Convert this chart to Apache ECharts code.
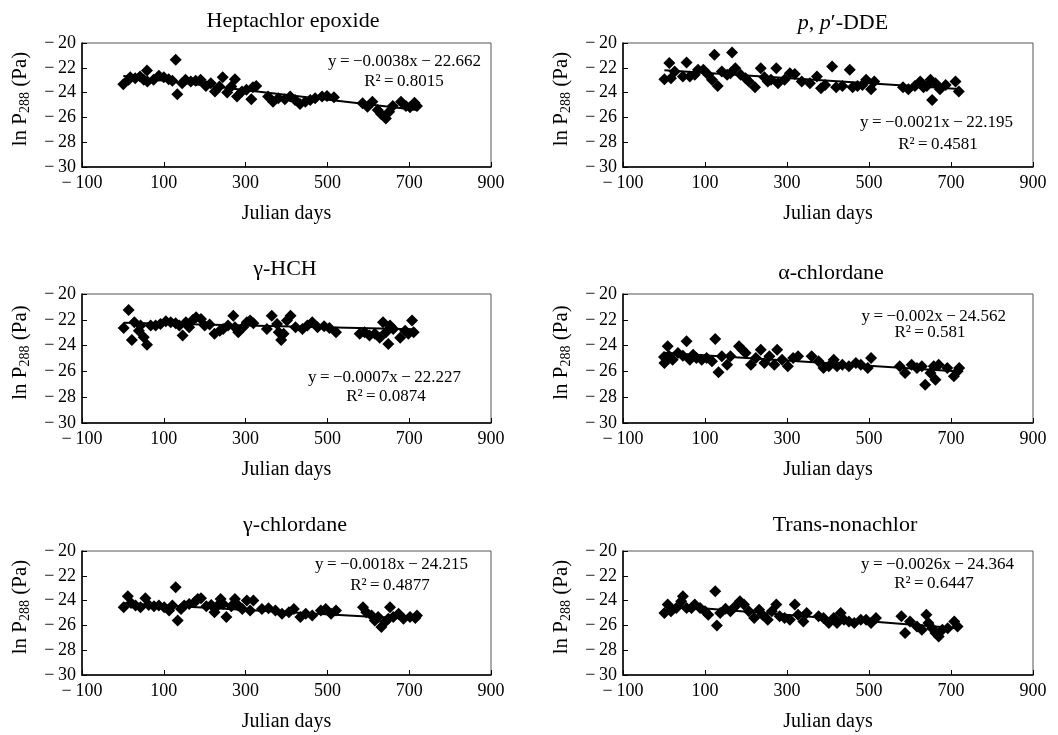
<!DOCTYPE html>
<html>
<head>
<meta charset="utf-8">
<script src="https://cdn.jsdelivr.net/npm/echarts@6/dist/echarts.min.js"></script>
<style>
html,body{margin:0;padding:0;background:#fff;}
#c{width:1058px;height:735px;}
</style>
</head>
<body>
<div id="c"></div>
<script>
// ---------- DATA ----------
const titles = ['Heptachlor epoxide', '{i|p}, {i|p}\u2032-DDE', '\u03B3-HCH', '\u03B1-chlordane', '\u03B3-chlordane', 'Trans-nonachlor'];
const xTicks = [-100, 100, 300, 500, 700, 900];
const yTicks = [-30, -28, -26, -24, -22, -20];

const hepDays = [1,14,18,30,42,51,59,60,75,88,100,112,121,129,133,145,153,166,178,190,203,215,225,236,244,255,265,274,279,291,302,314,318,326,355,367,380,396,409,421,433,446,458,470,487,499,516,586,598,610,623,631,643,651,660,680,692,702,713,719];
const hepVals = [-23.32,-22.97,-22.76,-22.84,-22.70,-22.97,-22.22,-23.11,-22.97,-22.65,-22.76,-22.92,-23.05,-21.35,-24.14,-23.24,-22.97,-23.11,-23.05,-22.97,-23.46,-23.24,-23.92,-23.51,-22.76,-24.00,-23.51,-22.92,-24.32,-23.92,-23.78,-24.54,-23.57,-23.46,-24.32,-24.73,-24.46,-24.54,-24.32,-24.59,-24.92,-24.73,-24.59,-24.46,-24.32,-24.27,-24.38,-24.86,-25.14,-24.73,-25.41,-25.73,-26.08,-25.54,-25.08,-24.73,-25.08,-25.19,-24.81,-25.08];

const ddeDays = [1,13,17,26,46,55,63,75,83,96,108,117,123,131,141,154,162,166,174,187,199,207,222,236,245,253,261,274,278,294,307,319,336,356,373,383,393,410,420,435,453,460,472,484,493,505,513,583,596,612,625,633,641,650,654,662,673,687,711,719];
const ddeVals = [-22.92,-21.62,-22.84,-22.30,-22.70,-21.57,-22.70,-22.57,-22.16,-22.16,-22.57,-22.97,-20.95,-23.46,-22.30,-22.57,-22.43,-20.76,-22.03,-22.57,-22.84,-23.11,-23.57,-22.03,-22.76,-23.11,-22.97,-22.03,-23.24,-22.97,-22.43,-22.49,-23.11,-23.24,-22.70,-23.65,-23.38,-21.89,-23.57,-23.46,-22.16,-23.57,-23.46,-23.38,-22.97,-23.73,-23.11,-23.57,-23.73,-23.46,-23.11,-23.57,-23.46,-22.97,-24.59,-23.24,-23.73,-23.38,-23.11,-23.92];

const hchDays = [2,14,22,28,39,43,51,59,68,80,92,105,117,129,138,146,154,162,171,179,191,200,212,224,237,245,257,270,274,282,294,303,311,319,352,364,377,381,387,393,401,410,422,439,451,463,476,492,505,521,579,591,603,616,628,636,643,649,653,661,678,690,698,707,711];
const hchVals = [-22.63,-21.24,-23.56,-22.19,-22.84,-22.45,-23.35,-23.94,-22.45,-22.45,-22.32,-22.11,-22.19,-22.27,-22.45,-23.22,-22.19,-22.58,-22.01,-21.80,-21.93,-22.45,-22.37,-23.09,-22.84,-22.71,-22.45,-21.68,-22.58,-22.96,-22.58,-22.19,-22.06,-22.27,-22.71,-21.68,-22.32,-22.96,-23.56,-23.09,-22.06,-21.68,-22.58,-22.71,-22.45,-22.19,-22.58,-22.50,-22.63,-22.96,-23.09,-22.96,-23.22,-23.09,-23.40,-22.19,-22.96,-23.87,-22.45,-22.71,-23.40,-22.84,-23.09,-22.06,-22.96];

const achDays = [0,1,9,13,21,34,46,55,63,71,79,92,104,117,125,133,141,154,162,183,191,199,212,224,236,245,257,269,276,288,302,315,327,360,377,389,402,414,422,435,451,468,480,497,505,575,588,604,617,629,637,650,658,662,670,691,707,716,720];
const achVals = [-24.88,-25.35,-24.06,-24.83,-25.09,-24.57,-24.78,-23.67,-25.09,-24.70,-24.96,-25.09,-24.96,-25.22,-23.49,-26.07,-24.83,-25.48,-24.83,-24.06,-24.32,-24.57,-25.48,-24.96,-24.32,-25.35,-24.83,-25.48,-24.32,-25.09,-25.61,-24.96,-24.83,-24.83,-25.22,-25.74,-25.61,-25.09,-25.61,-25.48,-25.61,-25.35,-25.48,-25.74,-24.96,-25.61,-26.12,-25.48,-25.74,-25.61,-27.03,-26.12,-25.61,-26.64,-25.48,-25.74,-26.38,-25.99,-25.74];

const gchDays = [2,12,20,31,43,55,63,76,88,101,113,121,129,134,142,150,162,175,183,191,204,216,224,232,239,245,253,265,274,282,292,303,311,319,340,356,373,389,406,418,434,447,463,484,496,509,521,587,595,608,616,624,632,641,649,653,661,674,686,702,715,719];
const gchVals = [-24.53,-23.65,-24.19,-24.40,-24.53,-23.81,-24.35,-24.45,-24.40,-24.53,-24.80,-24.40,-22.93,-25.60,-24.67,-24.40,-24.27,-24.13,-23.87,-23.81,-24.45,-24.35,-24.93,-24.40,-23.87,-24.27,-25.33,-24.45,-23.87,-24.40,-24.67,-24.00,-24.80,-24.00,-24.67,-24.61,-24.80,-25.07,-24.93,-24.67,-25.33,-25.07,-25.20,-24.80,-24.67,-25.07,-24.80,-24.53,-24.93,-25.20,-25.60,-25.33,-26.13,-25.73,-25.47,-24.53,-25.33,-25.07,-25.47,-25.33,-25.41,-25.20];

const tnDays = [1,9,17,30,42,46,55,67,75,88,100,108,125,129,137,150,162,174,185,195,207,220,232,240,253,263,274,282,294,307,319,327,340,348,377,389,402,414,422,431,439,451,464,480,493,505,517,579,588,600,617,629,640,645,654,662,670,679,692,708,716];
const tnVals = [-25.00,-24.32,-24.86,-24.59,-24.05,-23.65,-24.59,-24.59,-24.32,-24.59,-24.86,-25.14,-23.24,-26.00,-25.00,-24.65,-24.86,-24.46,-24.05,-24.32,-24.86,-25.41,-24.73,-25.14,-25.54,-24.86,-24.32,-25.27,-25.41,-25.54,-24.32,-25.14,-25.68,-25.00,-25.27,-25.41,-25.81,-25.41,-25.81,-25.00,-25.54,-25.68,-25.81,-25.54,-25.54,-25.81,-25.41,-25.27,-26.62,-25.68,-26.08,-26.35,-25.14,-25.81,-26.22,-26.62,-26.89,-26.35,-26.22,-25.68,-26.08];

const slopes = [-0.0038, -0.0021, -0.0007, -0.002, -0.0018, -0.0026];
const intercepts = [-22.662, -22.195, -22.227, -24.562, -24.215, -24.364];
const eqLabels = ['y\u2009=\u2009\u22120.0038x\u2009\u2212\u200922.662', 'y\u2009=\u2009\u22120.0021x\u2009\u2212\u200922.195', 'y\u2009=\u2009\u22120.0007x\u2009\u2212\u200922.227', 'y\u2009=\u2009\u22120.002x\u2009\u2212\u200924.562', 'y\u2009=\u2009\u22120.0018x\u2009\u2212\u200924.215', 'y\u2009=\u2009\u22120.0026x\u2009\u2212\u200924.364'];
const r2Labels = ['R\u00B2\u2009=\u20090.8015', 'R\u00B2\u2009=\u20090.4581', 'R\u00B2\u2009=\u20090.0874', 'R\u00B2\u2009=\u20090.581', 'R\u00B2\u2009=\u20090.4877', 'R\u00B2\u2009=\u20090.6447'];

const allDays = [hepDays, ddeDays, hchDays, achDays, gchDays, tnDays];
const allVals = [hepVals, ddeVals, hchVals, achVals, gchVals, tnVals];

// ---------- LAYOUT ----------
const FONT = '"Liberation Serif", "Times New Roman", serif';
const grids = [
  {left: 82, top: 43, width: 409, height: 124},
  {left: 623, top: 43, width: 410, height: 124},
  {left: 82, top: 294, width: 409, height: 129},
  {left: 623, top: 294, width: 410, height: 129},
  {left: 82, top: 551, width: 409, height: 124},
  {left: 623, top: 551, width: 410, height: 124}
];
const titlePos = [[288, 18], [838, 20], [280, 266], [826, 270], [290, 522], [840, 522]];
const eqPos = [[481, 62], [1013, 123], [461, 378], [1006, 317], [468, 565], [1014, 565]];
const r2Pos = [[404, 82], [938, 145], [386, 397], [930, 333], [390, 586], [934, 584]];

function fmt(v) {
  return v < 0 ? '\u2212' + '\u2009' + Math.abs(v) : String(v);
}

const option = {
  backgroundColor: '#fff',
  animation: false,
  title: titles.map((t, i) => ({
    text: t,
    left: titlePos[i][0],
    top: titlePos[i][1] - 13,
    textAlign: 'center',
    textStyle: {
      fontFamily: FONT, fontSize: 22, fontWeight: 'normal', color: '#000',
      rich: {i: {fontFamily: FONT, fontSize: 22, fontStyle: 'italic', color: '#000'}}
    }
  })),
  grid: grids.map(g => Object.assign({show: true, borderColor: '#555', borderWidth: 1, containLabel: false}, g)),
  xAxis: grids.map((g, i) => ({
    gridIndex: i, type: 'value', min: xTicks[0], max: xTicks[xTicks.length - 1], interval: 200,
    axisLine: {show: true, onZero: false, lineStyle: {color: '#000', width: 1.5}},
    axisTick: {show: true, inside: true, length: 5, lineStyle: {color: '#000'}},
    axisLabel: {formatter: fmt, fontFamily: FONT, fontSize: 18, color: '#000', margin: 7},
    splitLine: {show: false},
    name: 'Julian days', nameLocation: 'middle', nameGap: 37,
    nameTextStyle: {fontFamily: FONT, fontSize: 20, color: '#000'}
  })),
  yAxis: grids.map((g, i) => ({
    gridIndex: i, type: 'value', min: yTicks[0], max: yTicks[yTicks.length - 1], interval: 2,
    axisLine: {show: true, onZero: false, lineStyle: {color: '#000', width: 1.5}},
    axisTick: {show: true, inside: true, length: 5, lineStyle: {color: '#000'}},
    axisLabel: {formatter: fmt, fontFamily: FONT, fontSize: 18, color: '#000', margin: 6},
    splitLine: {show: false},
    name: '{n|ln P}{s|288}{n| (Pa)}', nameLocation: 'middle', nameRotate: 90, nameGap: 50,
    nameTextStyle: {
      fontFamily: FONT, fontSize: 21, color: '#000', padding: [0, 0, 0, 12],
      rich: {
        n: {fontFamily: FONT, fontSize: 21, color: '#000', lineHeight: 24},
        s: {fontFamily: FONT, fontSize: 14, color: '#000', lineHeight: 24, padding: [11, 0, 0, 0]}
      }
    }
  })),
  series: [],
  graphic: []
};

for (let i = 0; i < 6; i++) {
  const days = allDays[i], vals = allVals[i];
  option.series.push({
    type: 'scatter', xAxisIndex: i, yAxisIndex: i,
    data: days.map((d, k) => [d, vals[k]]),
    symbol: 'diamond', symbolSize: 12,
    itemStyle: {color: '#000', opacity: 1}, z: 3
  });
  const x0 = Math.min.apply(null, days), x1 = Math.max.apply(null, days);
  option.series.push({
    type: 'line', xAxisIndex: i, yAxisIndex: i,
    data: [[x0, slopes[i] * x0 + intercepts[i]], [x1, slopes[i] * x1 + intercepts[i]]],
    symbol: 'none', lineStyle: {color: '#000', width: 2}, z: 2
  });
  option.graphic.push({
    type: 'text', x: eqPos[i][0], y: eqPos[i][1],
    style: {text: eqLabels[i], fontFamily: FONT, fontSize: 17, fill: '#000', textAlign: 'right', textVerticalAlign: 'middle'}
  });
  option.graphic.push({
    type: 'text', x: r2Pos[i][0], y: r2Pos[i][1],
    style: {text: r2Labels[i], fontFamily: FONT, fontSize: 17, fill: '#000', textAlign: 'center', textVerticalAlign: 'middle'}
  });
}

const chart = echarts.init(document.getElementById('c'), null, {renderer: 'canvas'});
chart.setOption(option);
</script>
</body>
</html>
